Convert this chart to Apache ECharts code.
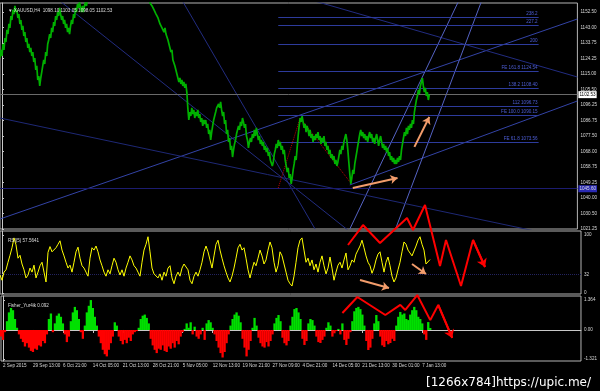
<!DOCTYPE html>
<html><head><meta charset="utf-8">
<script src="https://cdn.jsdelivr.net/npm/echarts@6/dist/echarts.min.js"></script>
<style>html,body{margin:0;padding:0;background:#000;}#c{width:600px;height:391px;}</style>
</head><body><div id="c"></div>
<script>
// ---- time axis (H4 bar index) ----
const xTickBars = [0,30,60,90,120,150,180,210,240,270,300,330,360,390,420];
const xTickLabels = ['2 Sep 2015','29 Sep 13:00','6 Oct 21:00','14 Oct 05:00','21 Oct 13:00','28 Oct 21:00','5 Nov 05:00','12 Nov 13:00','19 Nov 21:00','27 Nov 09:00','4 Dec 21:00','14 Dec 05:00','21 Dec 13:00','30 Dec 01:00','7 Jan 13:00'];
// ---- price axis ----
const priceTicks = [1021.25,1030.50,1040.00,1049.25,1058.75,1068.00,1077.50,1086.75,1096.25,1105.50,1115.00,1124.25,1133.75,1143.00,1152.50];
const rsiTicks = [0,32,100];
const fisherTicks = [-1.321,0,1.364];
// ---- price (one value per bar) ----
const priceStartA = -2;
const priceA = [1124.7,1129.6,1125.9,1133.2,1129.6,1136.8,1134.4,1141.7,1139.2,1145.3,
1142.9,1150.1,1147.7,1153.8,1151.3,1156.2,1152.5,1153.8,1148.9,1151.3,
1145.3,1147.7,1141.7,1144.1,1138.0,1140.4,1134.4,1136.8,1130.8,1133.2,
1128.3,1130.8,1125.9,1128.3,1122.3,1124.7,1117.5,1119.9,1111.4,1113.8,
1107.8,1112.6,1116.2,1119.9,1123.5,1121.1,1128.3,1125.9,1133.2,1135.6,
1139.2,1136.8,1142.9,1140.4,1146.5,1144.1,1150.1,1147.7,1152.5,1150.1,
1155.0,1151.3,1147.7,1150.1,1145.3,1147.7,1142.9,1145.3,1140.4,1142.9,
1139.2,1144.1,1147.7,1145.3,1151.3,1148.9,1155.0,1152.5,1157.4,1155.0,
1158.6,1155.0,1152.5,1156.2,1152.5,1156.2,1158.6,1156.2,1159.8,1162.2,1164.6];
const priceStartB = 148;
const priceB = [1161.0,1158.0,1158.6,1156.2,1157.4,1153.8,1155.0,1151.3,1152.5,1148.9,
1150.1,1145.3,1146.5,1142.9,1144.1,1140.4,1142.9,1139.2,1140.4,1135.6,
1133.2,1134.4,1128.3,1129.6,1123.5,1124.7,1119.9,1121.1,1115.0,1116.2,
1110.2,1112.6,1109.0,1111.4,1107.8,1110.2,1106.6,1109.0,1104.1,1094.5,
1087.2,1092.0,1089.6,1094.5,1090.8,1093.3,1088.4,1092.0,1089.6,1093.3,
1088.4,1090.8,1086.0,1088.4,1083.6,1087.2,1084.8,1087.2,1082.4,1084.8,
1078.7,1081.2,1075.1,1079.9,1083.6,1087.2,1089.6,1092.0,1094.5,1095.7,
1096.9,1094.5,1098.1,1093.3,1089.6,1092.0,1084.8,1087.2,1078.7,1081.2,
1073.9,1076.3,1069.1,1071.5,1064.8,1069.1,1072.7,1075.1,1078.7,1081.2,
1083.6,1081.2,1086.0,1083.6,1088.4,1086.0,1082.4,1084.8,1077.5,1075.1,
1070.3,1073.9,1076.3,1073.9,1078.7,1076.3,1081.2,1077.5,1082.4,1078.7,
1075.1,1077.5,1072.7,1075.1,1071.5,1073.9,1069.1,1071.5,1067.8,1070.3,
1065.4,1067.8,1063.0,1064.2,1059.4,1061.8,1066.6,1069.1,1072.7,1070.3,
1075.1,1071.5,1073.9,1069.1,1071.5,1066.6,1069.1,1063.0,1059.4,1055.7,
1058.2,1052.1,1054.5,1048.5,1052.1,1057.0,1060.6,1065.4,1063.0,1070.3,
1077.5,1083.6,1088.4,1086.0,1089.6,1086.0,1082.4,1084.8,1079.9,1083.6,
1081.2,1077.5,1081.2,1076.3,1078.7,1073.9,1077.5,1075.1,1078.7,1076.3,
1079.9,1075.1,1077.5,1072.7,1076.3,1073.9,1077.5,1071.5,1073.9,1069.1,
1071.5,1066.6,1069.1,1064.2,1066.6,1063.0,1065.4,1060.6,1063.0,1059.4,
1061.8,1065.4,1069.1,1066.6,1071.5,1069.1,1073.9,1076.3,1078.7,1075.1,
1069.1,1061.8,1054.5,1048.5,1052.1,1057.0,1054.5,1060.6,1064.2,1067.8,
1071.5,1075.1,1078.7,1081.2,1077.5,1079.9,1076.3,1078.7,1075.1,1077.5,
1073.9,1077.5,1079.9,1076.3,1078.7,1073.9,1076.3,1072.7,1076.3,1078.7,
1075.1,1071.5,1075.1,1077.5,1073.9,1070.3,1072.7,1069.1,1071.5,1067.8,
1070.3,1065.4,1067.8,1063.0,1065.4,1061.8,1064.2,1060.6,1063.0,1060.6,
1064.2,1061.8,1065.4,1063.0,1069.1,1072.7,1076.3,1079.9,1077.5,1082.4,
1078.7,1083.6,1081.2,1084.8,1082.4,1087.2,1084.8,1092.0,1095.7,1099.3,
1101.7,1105.4,1103.0,1107.8,1110.2,1112.6,1107.8,1104.1,1106.6,1101.7,
1104.1,1099.3,1102.5];
const lastPrice = 1102.53;
const supportLevel = 1045.6;
// ---- RSI(5), one value every 2 bars ----
const rsiStart = -2, rsiStep = 2;
const rsiValues = [31,22,36,40,53,65,78,95,83,60,
65,50,40,26,31,43,36,48,26,36,
47,53,36,19,70,80,71,74,78,84,
90,74,64,53,43,48,36,53,71,79,
60,47,43,36,29,60,78,74,81,71,
57,47,36,29,40,33,47,60,53,40,
31,40,29,43,53,64,57,47,43,36,
29,53,74,84,97,71,43,33,36,26,
33,22,36,29,43,47,26,16,29,36,
29,43,50,53,40,22,16,29,36,29,
40,53,71,81,71,57,43,64,84,91,
74,60,47,36,26,19,29,43,60,78,
84,74,78,60,40,26,40,53,47,60,
74,64,50,57,74,88,78,53,36,47,
71,64,50,36,22,16,12,29,53,78,
91,95,74,53,60,47,57,40,50,36,
53,64,47,33,43,62,43,22,36,48,
53,43,57,69,40,47,57,53,67,74,
81,91,78,64,53,47,34,43,57,67,
71,53,36,53,62,47,29,19,26,40,
53,71,88,84,74,74,64,62,81,91,
97,84,74,50,47,57.56];
const rsiLevel = 32;
// ---- Fisher_Yur4ik, one value every 2 bars ----
const fisherStart = -2, fisherStep = 2;
const fisherValues = [-0.3,-0.45,-0.1,0.4,0.8,1.0,0.9,0.5,0.1,-0.2,
-0.4,-0.55,-0.75,-0.6,-0.8,-0.95,-1.0,-0.85,-0.9,-0.7,
-0.75,-0.5,-0.6,-0.2,0.5,0.75,-0.1,0.3,0.65,0.75,
0.6,0.3,-0.2,-0.55,-0.3,0.4,0.8,1.05,0.9,0.5,
-0.1,-0.4,0.2,0.8,1.1,1.36,1.0,0.6,0.2,-0.3,
-0.6,-0.9,-1.1,-1.2,-0.9,-0.6,-0.3,0.35,0.2,-0.3,
-0.5,-0.65,-0.45,-0.6,-0.35,-0.5,-0.2,-0.1,-0.05,0.1,
0.5,0.65,0.7,0.55,0.3,-0.4,-0.7,-0.9,-1.05,-0.85,
-0.9,-0.7,-0.95,-1.0,-0.75,-0.85,-0.6,-0.8,-0.5,-0.65,
-0.3,-0.1,0.05,0.3,0.1,0.35,-0.2,0.15,-0.3,-0.4,
-0.2,0.1,-0.45,0.3,0.45,0.35,0.1,-0.2,-0.5,-0.8,
-1.05,-1.25,-1.0,-0.6,-0.2,0.2,0.5,0.7,0.8,0.65,
0.35,-0.4,-0.8,-1.2,-0.9,-0.5,0.1,0.55,0.2,-0.35,
-0.6,-0.75,-0.8,-0.55,-0.75,-0.5,-0.2,0.3,0.55,0.68,
0.4,-0.35,-0.6,-0.7,-0.5,0.2,0.6,0.95,1.0,0.8,
0.5,-0.4,-0.68,-0.5,0.3,0.5,0.45,0.2,-0.3,-0.55,
-0.59,-0.45,-0.3,0.1,0.35,0.2,-0.3,-0.15,-0.05,0.05,
-0.2,0.3,-0.45,-0.68,-0.4,-0.1,0.4,0.85,1.0,1.05,
0.95,0.7,0.2,-0.5,-0.91,-0.8,-0.4,0.3,0.68,0.4,
-0.3,-0.7,-0.77,-0.5,-0.65,-0.59,-0.4,-0.5,0.2,0.6,
0.82,0.7,0.75,0.5,0.45,0.7,0.9,1.05,0.9,0.6,
0.5,0.3,-0.2,-0.45,0.36,0.092];
// ---- Fibonacci levels (price) ----
const fibLevels = [1149.5,1144.7,1133.2,1116.8,1106.55,1095.7,1090.2,1073.9];
const fibLabels = ['238.2','227.2','200','FE 161.8 1124.54','138.2 1108.40','112 1096.73','FE 100.0 1090.15','FE 61.8 1073.56'];
const fibFromBar = 278, fibToBar = 540;
// ---- trend lines [bar, price] endpoints ----
const trendLines = [
  [[-2,1027.3],[579,1148.3]],
  [[311,1159.8],[579,1113.2]],
  [[57,1159.8],[348,1020.6]],
  [[181,1159.8],[315,1021.3]],
  [[350,1047.9],[579,1098.7]],
  [[350,1021.25],[460,1159.8]],
  [[396,1021.25],[483,1159.8]],
  [[-2,1088.4],[579,1014.6]]
];
// zigzag (dotted, price)
const zigzag = [[278,1046.1],[300,1088.4],[351,1049.1]];
// annotations
const notes = [{t:'(a)', bar:300, price:1108.0},{t:'(b)', bar:350, price:1038.5}];
// orange arrows
const priceArrows = [[[353,1046.1],[398,1052.1]],[[415,1070.9],[430,1089.0]]];
const rsiArrows = [[[358,22.4],[387,8.6]],[[410,50],[424,32.8]]];
// red forecast zigzags (in RSI and Fisher units)
const forecastRsi = [[346,82.8],[361,117.2],[378,86.2],[405,129.3],[411,108.6],[423,151.7],[438,46.6],[444,91.4],[459,12.1],[471,91.4],[483,44.8]];
const forecastFisher = [[340,0.77],[355,1.5],[383,0.68],[398,1.14],[403,0.91],[415,1.59],[428,0.45],[436,1.14],[450,-0.36]];

// ================= build =================
const FONT = 'Liberation Sans';
const tiny = 4.6;
const toPairs = (arr, start, step) => arr.map((v,i)=>[start+i*step, v]);
const lineBlue = ['#3343a6','#222c80','#222c80','#222c80','#3343a6','#5563c4','#5563c4','#1e2875'];

function xAx(i, show){
  return {type:'value', gridIndex:i, min:-2, max:579, show: show,
    axisLine:{show:show, lineStyle:{color:'#c8c8c8'}},
    axisTick:{show:show, customValues:xTickBars, length:3, lineStyle:{color:'#c8c8c8'}},
    axisLabel:{show:show, customValues:xTickBars, align:'left', margin:2, fontSize:tiny, color:'#d8d8d8', fontFamily:FONT,
      formatter:v=>{const k=xTickBars.indexOf(v);return k>=0?xTickLabels[k]:'';}},
    splitLine:{show:false}};
}
function yAx(i, min, max, ticks, fmt){
  return {type:'value', gridIndex:i, position:'right', min:min, max:max, scale:true,
    axisLine:{show:true, lineStyle:{color:'#c8c8c8'}},
    axisTick:{show:true, customValues:ticks, length:2, lineStyle:{color:'#c8c8c8'}},
    axisLabel:{show:true, customValues:ticks, margin:3, fontSize:tiny, color:'#d8d8d8', fontFamily:FONT, formatter:fmt},
    splitLine:{show:false}};
}

const series = [];
// trend lines
trendLines.forEach((seg,k)=>series.push({type:'line', xAxisIndex:0, yAxisIndex:0, data:seg, symbol:'none', silent:true,
  lineStyle:{color:lineBlue[k], width:1}, clip:true, z:1}));
// fib lines
series.push({type:'line', xAxisIndex:0, yAxisIndex:0, data:[], symbol:'none',
  markLine:{silent:true, symbol:['none','none'], animation:false,
    data: fibLevels.map((lv,k)=>[
      {coord:[fibFromBar,lv], lineStyle:{color:'#2d3b9c', width:1, type:'solid'},
       label:{show:true, position:'insideEndTop', formatter:fibLabels[k], color:'#4d5ed6', fontSize:tiny, fontFamily:FONT, distance:[1,1]}},
      {coord:[fibToBar,lv]}])}, z:2});
// horizontal lines (bid + support)
series.push({type:'line', xAxisIndex:0, yAxisIndex:0, data:[], symbol:'none',
  markLine:{silent:true, symbol:['none','none'], animation:false, data:[
    {yAxis:lastPrice, lineStyle:{color:'#6a6a6a', width:1, type:'solid'},
      label:{show:true, position:'end', distance:1, formatter:lastPrice.toFixed(2), backgroundColor:'#ffffff', color:'#000', fontSize:tiny, fontFamily:FONT, padding:[1,1]}},
    {yAxis:supportLevel, lineStyle:{color:'#1c1c70', width:1, type:'solid'},
      label:{show:true, position:'end', distance:1, formatter:supportLevel.toFixed(2), backgroundColor:'#2a2ab4', color:'#ddd', fontSize:tiny, fontFamily:FONT, padding:[1,1]}}
  ]}, z:2});
// price
series.push({type:'line', xAxisIndex:0, yAxisIndex:0, data:toPairs(priceA,priceStartA,1), symbol:'none', clip:true,
  lineStyle:{color:'#00b000', width:1.7}, z:5});
series.push({type:'line', xAxisIndex:0, yAxisIndex:0, data:toPairs(priceB,priceStartB,1), symbol:'none', clip:true,
  lineStyle:{color:'#00b000', width:1.7}, z:5,
  markLine:{silent:true, symbol:['none','arrow'], symbolSize:7, animation:false,
    lineStyle:{color:'#f29c6b', width:2, type:'solid'}, label:{show:false},
    data: priceArrows.map(a=>[{coord:a[0]},{coord:a[1]}])}});
// zigzag dotted
series.push({type:'line', xAxisIndex:0, yAxisIndex:0, data:zigzag, symbol:'none', lineStyle:{color:'#c00000', width:1, type:'dotted'}, z:4});
// annotations
series.push({type:'scatter', xAxisIndex:0, yAxisIndex:0, symbolSize:1, itemStyle:{opacity:0},
  data: notes.map(n=>({value:[n.bar,n.price], label:{show:true, formatter:n.t}})),
  label:{show:true, position:'inside', color:'#b3c34a', fontSize:13, fontFamily:'DejaVu Sans'}, z:6});
// RSI
series.push({type:'line', xAxisIndex:1, yAxisIndex:1, data:toPairs(rsiValues,rsiStart,rsiStep), symbol:'none',
  lineStyle:{color:'#ffff00', width:1}, z:5,
  markLine:{silent:true, symbol:['none','none'], animation:false, label:{show:false},
    data:[{yAxis:rsiLevel, lineStyle:{color:'#23235e', width:1, type:'dotted'}}]}});
series.push({type:'line', xAxisIndex:1, yAxisIndex:1, data:[], symbol:'none',
  markLine:{silent:true, symbol:['none','arrow'], symbolSize:7, animation:false,
    lineStyle:{color:'#f29c6b', width:2, type:'solid'}, label:{show:false},
    data: rsiArrows.map(a=>[{coord:a[0]},{coord:a[1]}])}, z:7});
// Fisher histogram
series.push({type:'bar', xAxisIndex:2, yAxisIndex:2, data:toPairs(fisherValues,fisherStart,fisherStep), barWidth:2.3,
  itemStyle:{color:p=>p.value[1]>=0?'#00e000':'#ff0000'}, z:5});
// red forecasts
series.push({type:'line', xAxisIndex:1, yAxisIndex:1, data:forecastRsi, symbol:'none', clip:false,
  lineStyle:{color:'#ff0000', width:2}, z:10,
  markLine:{silent:true, symbol:['none','arrow'], symbolSize:8, animation:false, label:{show:false},
    lineStyle:{color:'#ff0000', width:2, type:'solid'},
    data:[[{coord:forecastRsi[forecastRsi.length-2]},{coord:forecastRsi[forecastRsi.length-1]}]]}});
series.push({type:'line', xAxisIndex:2, yAxisIndex:2, data:forecastFisher, symbol:'none', clip:false,
  lineStyle:{color:'#ff0000', width:2}, z:10,
  markLine:{silent:true, symbol:['none','arrow'], symbolSize:8, animation:false, label:{show:false},
    lineStyle:{color:'#ff0000', width:2, type:'solid'},
    data:[[{coord:forecastFisher[forecastFisher.length-2]},{coord:forecastFisher[forecastFisher.length-1]}]]}});

const gridStyle = {show:true, borderColor:'#b4b4b4', borderWidth:1, backgroundColor:'transparent', containLabel:false};
const option = {
  animation:false,
  backgroundColor:'#000000',
  textStyle:{fontFamily:FONT},
  title:[
    {text:'\u25BC XAUUSD,H4  1098.10 1103.05 1098.05 1102.53', left:3, top:3, textStyle:{fontSize:tiny, color:'#dddddd', fontWeight:'normal', fontFamily:FONT}},
    {text:'RSI(5) 57.5641', left:3, top:233, textStyle:{fontSize:tiny, color:'#dddddd', fontWeight:'normal', fontFamily:FONT}},
    {text:'Fisher_Yur4ik 0.092', left:3, top:298, textStyle:{fontSize:tiny, color:'#dddddd', fontWeight:'normal', fontFamily:FONT}},
    {text:'[1266x784]https://upic.me/', right:4, top:372, textStyle:{fontSize:12, color:'#ffffff', fontWeight:'normal', fontFamily:'DejaVu Sans'}}
  ],
  grid:[
    Object.assign({left:0, right:19, top:3, height:226}, gridStyle),
    Object.assign({left:0, right:19, top:231, height:63}, gridStyle),
    Object.assign({left:0, right:19, top:296, height:65}, gridStyle)
  ],
  xAxis:[xAx(0,false), xAx(1,false), xAx(2,true)],
  yAxis:[
    yAx(0, 1021.25, 1157.97, priceTicks, v=>v.toFixed(2)),
    yAx(1, -1.72, 106.9, rsiTicks, v=>String(v)),
    yAx(2, -1.409, 1.545, fisherTicks, v=>v===0?'0.00':v.toFixed(3))
  ],
  series: series
};
const chart = echarts.init(document.getElementById('c'));
chart.setOption(option);
</script>
</body></html>
